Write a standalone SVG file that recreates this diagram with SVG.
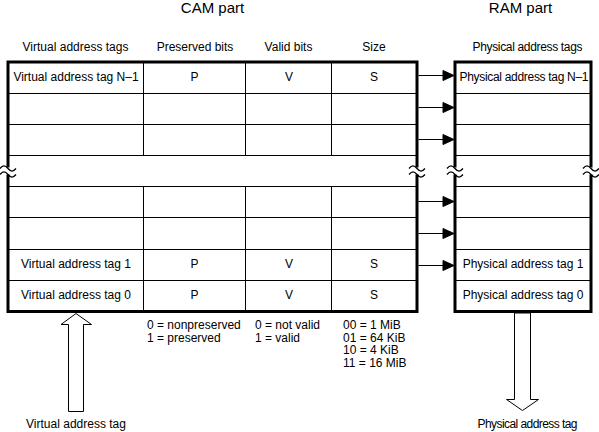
<svg xmlns="http://www.w3.org/2000/svg" width="599" height="432" viewBox="0 0 599 432">
<style>
text{font-family:"Liberation Sans",Arial,sans-serif;font-size:12px;fill:#000}
.t{font-size:15px}
.c{text-anchor:middle}
.thin{stroke:#000;stroke-width:1;fill:none}
.thick{stroke:#000;stroke-width:3;fill:none}
.wave{stroke:#000;stroke-width:1.3;fill:none}
.gap{fill:#fff;stroke:none}
.hollow{fill:#fff;stroke:#000;stroke-width:1}
</style>
<defs>
<g id="brk">
<rect class="gap" x="-3" y="-3.5" width="6" height="7"/>
<path class="wave" d="M-8,-2.5 c3,-3.5 5,-3.5 8,0 s5,3.5 8,0"/>
<path class="wave" d="M-8,3.5 c3,-3.5 5,-3.5 8,0 s5,3.5 8,0"/>
</g>
</defs>
<rect width="599" height="432" fill="#fff"/>
<g id="titles">
<text class="t c" x="212.5" y="13">CAM part</text>
<text class="t c" x="520.5" y="13">RAM part</text>
<text class="c" x="75.5" y="51">Virtual address tags</text>
<text class="c" x="195" y="51">Preserved bits</text>
<text class="c" x="288.5" y="51">Valid bits</text>
<text class="c" x="374" y="51">Size</text>
<text class="c" x="527.5" y="51" textLength="110" lengthAdjust="spacing">Physical address tags</text>
</g>
<g id="cam-table">
<path class="thin" d="M8,93.5H417M8,124.5H417M8,155.5H417M8,186.5H417M8,217.5H417M8,249.5H417M8,280.5H417"/>
<path class="thin" d="M143.5,62V155M245.5,62V155M331.5,62V155M143.5,186V311M245.5,186V311M331.5,186V311"/>
<rect class="thick" x="8" y="62" width="409" height="249.5"/>
<use href="#brk" x="8" y="171"/>
<use href="#brk" x="417" y="171"/>
<text class="c" x="76" y="81">Virtual address tag N–1</text>
<text class="c" x="194.5" y="81">P</text>
<text class="c" x="289" y="81">V</text>
<text class="c" x="374" y="81">S</text>
<text class="c" x="76" y="268">Virtual address tag 1</text>
<text class="c" x="194.5" y="268">P</text>
<text class="c" x="289" y="268">V</text>
<text class="c" x="374" y="268">S</text>
<text class="c" x="76" y="299">Virtual address tag 0</text>
<text class="c" x="194.5" y="299">P</text>
<text class="c" x="289" y="299">V</text>
<text class="c" x="374" y="299">S</text>
</g>
<g id="ram-table">
<path class="thin" d="M455,93.5H591M455,124.5H591M455,155.5H591M455,186.5H591M455,217.5H591M455,249.5H591M455,280.5H591"/>
<rect class="thick" x="455" y="62" width="136" height="249.5"/>
<use href="#brk" x="455" y="171"/>
<use href="#brk" x="591" y="171"/>
<text x="459.5" y="81" textLength="129" lengthAdjust="spacing">Physical address tag N–1</text>
<text class="c" x="523" y="268">Physical address tag 1</text>
<text class="c" x="523" y="299">Physical address tag 0</text>
</g>
<g id="legend">
<text x="147" y="329">0 = nonpreserved</text>
<text x="147" y="342">1 = preserved</text>
<text x="255" y="329">0 = not valid</text>
<text x="255" y="342">1 = valid</text>
<text x="343" y="329">00 = 1 MiB</text>
<text x="343" y="341.5">01 = 64 KiB</text>
<text x="343" y="354">10 = 4 KiB</text>
<text x="343" y="366.5">11 = 16 MiB</text>
</g>
<g id="virtual-input">
<polygon class="hollow" points="76,313.5 91.5,324.5 83.5,324.5 83.5,411.5 68.5,411.5 68.5,324.5 61,324.5"/>
<text class="c" x="76" y="428">Virtual address tag</text>
</g>
<g id="physical-output">
<polygon class="hollow" points="514.5,313 530.5,313 530.5,399.5 538.5,399.5 522.5,410.5 506.5,399.5 514.5,399.5"/>
<text class="c" x="527.5" y="428" textLength="100" lengthAdjust="spacing">Physical address tag</text>
</g>
<g id="connectors" stroke="#000" fill="#000">
<path class="thin" d="M418.5,75.5H444M418.5,107.5H444M418.5,139.5H444M418.5,201.5H444M418.5,233.5H444M418.5,265.5H444"/>
<polygon points="443,70.5 454,75.5 443,80.5"/>
<polygon points="443,102.5 454,107.5 443,112.5"/>
<polygon points="443,134.5 454,139.5 443,144.5"/>
<polygon points="443,196.5 454,201.5 443,206.5"/>
<polygon points="443,228.5 454,233.5 443,238.5"/>
<polygon points="443,260.5 454,265.5 443,270.5"/>
</g>
</svg>
